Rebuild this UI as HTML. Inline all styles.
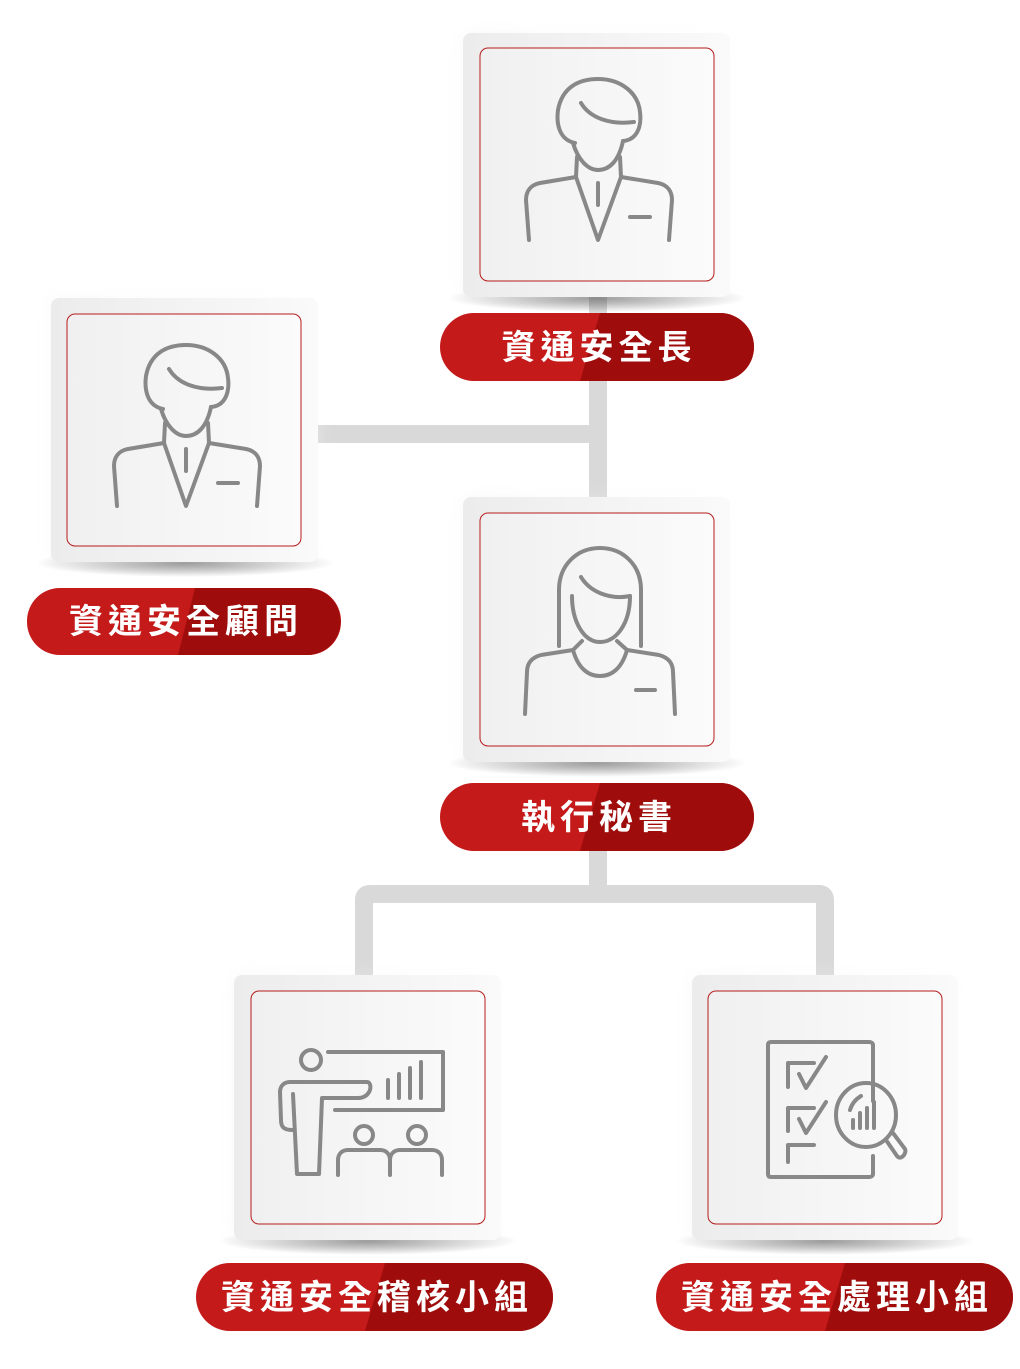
<!DOCTYPE html>
<html><head><meta charset="utf-8"><style>
html,body{margin:0;padding:0;background:#fff;}
body{width:1020px;height:1364px;overflow:hidden;}
</style></head><body>
<svg width="1020" height="1364" viewBox="0 0 1020 1364" xmlns="http://www.w3.org/2000/svg">
<defs>
<linearGradient id="card" x1="0" x2="1" y1="0" y2="0"><stop offset="0" stop-color="#ececec"/><stop offset="1" stop-color="#fafafa"/></linearGradient>
<linearGradient id="inner" x1="0" x2="1" y1="0" y2="0"><stop offset="0" stop-color="#f0f0f0"/><stop offset="1" stop-color="#fbfbfb"/></linearGradient>
<radialGradient id="sh" cx="0.5" cy="0.5" r="0.5"><stop offset="0" stop-color="#000" stop-opacity="0.45"/><stop offset="1" stop-color="#000" stop-opacity="0"/></radialGradient>
<filter id="blur" x="-20%" y="-20%" width="140%" height="140%"><feGaussianBlur stdDeviation="8"/></filter>
<g id="male" fill="none" stroke="#888" stroke-width="4" stroke-linecap="round" stroke-linejoin="round">
<path d="M575,143 C560,140 556,125 558,110 C562,88 578,79 598,79 C620,79 638,92 640,112 C642,128 636,140 623,141"/>
<path d="M573,143 C578,160 588,170 598,170 C610,170 619,160 623,141"/>
<path d="M581,103 C590,118 610,125 634,122"/>
<path d="M577,157 L576,177 M620,157 L621,177"/>
<path d="M576,177 L540,183 C530,185 526,192 526,200 L529,240"/>
<path d="M621,177 L658,183 C668,185 672,192 672,200 L669,240"/>
<path d="M576,177 L598,240 L621,177"/>
<path d="M598,183 L598,205 M630,217 L650,217"/>
</g>
</defs>
<!-- connectors -->
<g fill="none" stroke="#d9d9d9" stroke-width="18">
<path d="M598,297 L598,497"/>
<path d="M318,434 L598,434"/>
<path d="M598,851 L598,894 M364,975 L364,900 Q364,894 370,894 L819,894 Q825,894 825,900 L825,975"/>
</g>
<!-- cards -->
<g id="cards">
<g>
<ellipse cx="597" cy="298" rx="150" ry="14" fill="url(#sh)"/>
<rect x="463" y="33" width="267" height="264" rx="8" fill="url(#card)" filter="url(#blur)" opacity="0.35"/>
<rect x="463" y="33" width="267" height="264" rx="8" fill="url(#card)"/>
<rect x="480" y="48" width="234" height="233" rx="8" fill="url(#inner)" stroke="#b51c1c" stroke-width="1"/>
</g>
<g>
<ellipse cx="185" cy="563" rx="150" ry="14" fill="url(#sh)"/>
<rect x="51" y="298" width="267" height="264" rx="8" fill="url(#card)" filter="url(#blur)" opacity="0.35"/>
<rect x="51" y="298" width="267" height="264" rx="8" fill="url(#card)"/>
<rect x="67" y="314" width="234" height="232" rx="8" fill="url(#inner)" stroke="#b51c1c" stroke-width="1"/>
</g>
<g>
<ellipse cx="597" cy="763" rx="150" ry="14" fill="url(#sh)"/>
<rect x="463" y="497" width="267" height="265" rx="8" fill="url(#card)" filter="url(#blur)" opacity="0.35"/>
<rect x="463" y="497" width="267" height="265" rx="8" fill="url(#card)"/>
<rect x="480" y="513" width="234" height="233" rx="8" fill="url(#inner)" stroke="#b51c1c" stroke-width="1"/>
</g>
<g>
<ellipse cx="368" cy="1241" rx="150" ry="14" fill="url(#sh)"/>
<rect x="234" y="975" width="267" height="265" rx="8" fill="url(#card)" filter="url(#blur)" opacity="0.35"/>
<rect x="234" y="975" width="267" height="265" rx="8" fill="url(#card)"/>
<rect x="251" y="991" width="234" height="233" rx="8" fill="url(#inner)" stroke="#b51c1c" stroke-width="1"/>
</g>
<g>
<ellipse cx="825" cy="1241" rx="150" ry="14" fill="url(#sh)"/>
<rect x="692" y="975" width="266" height="265" rx="8" fill="url(#card)" filter="url(#blur)" opacity="0.35"/>
<rect x="692" y="975" width="266" height="265" rx="8" fill="url(#card)"/>
<rect x="708" y="991" width="234" height="233" rx="8" fill="url(#inner)" stroke="#b51c1c" stroke-width="1"/>
</g>
</g>
<!-- icons -->
<use href="#male"/>
<use href="#male" transform="translate(-412,266)"/>
<g fill="none" stroke="#888" stroke-width="4" stroke-linecap="round" stroke-linejoin="round">
<path d="M559,646 L559,590 C559,565 577,548 600,548 C623,548 641,565 641,590 L641,646"/>
<path d="M572,596 C572,622 584,642 600,642 C616,642 630,624 630,596"/>
<path d="M581,577 C590,592 610,600 630,596"/>
<path d="M582,641 L573,650 C578,668 588,676 600,676 C612,676 622,668 627,650 L617,641"/>
<path d="M573,650 L541,655 C530,658 527,665 527,672 L525,714"/>
<path d="M627,650 L659,655 C670,658 673,665 673,672 L675,714"/>
<path d="M636,690 L655,690"/>
</g>
<!-- presenter -->
<g fill="none" stroke="#888" stroke-width="4" stroke-linecap="round" stroke-linejoin="round">
<circle cx="311" cy="1060" r="10"/>
<path d="M328,1052 L443,1052 L443,1110 L335,1110"/>
<path d="M388,1098 L388,1080 M399,1098 L399,1074 M410,1098 L410,1068 M421,1098 L421,1062"/>
<path d="M292,1130 C283,1130 281,1126 281,1120 L280,1092 C280,1086 284,1082 290,1082 L367,1082 C370,1082 371,1086 370,1090 C368,1095 364,1098 358,1098 L322,1098 L319,1174 L297,1174 L293,1094"/>
<circle cx="364" cy="1135" r="9"/>
<circle cx="417" cy="1135" r="9"/>
<path d="M338,1175 L338,1160 C338,1154 342,1150 348,1150 L380,1150 C386,1150 390,1154 390,1160 L390,1175"/>
<path d="M390,1160 C390,1154 394,1150 400,1150 L432,1150 C438,1150 442,1154 442,1160 L442,1175"/>
</g>
<!-- checklist -->
<g fill="none" stroke="#888" stroke-width="4" stroke-linecap="round" stroke-linejoin="round">
<path d="M873,1101 L873,1045 C873,1043 871,1042 869,1042 L771,1042 C769,1042 768,1043 768,1045 L768,1174 C768,1176 769,1177 771,1177 L869,1177 C871,1177 873,1176 873,1174 L873,1156"/>
<path d="M788,1087 L788,1063 L814,1063 M799,1074 L806,1088 L826,1057"/>
<path d="M788,1131 L788,1108 L814,1108 M799,1119 L806,1133 L826,1102"/>
<path d="M788,1162 L788,1145 L814,1145"/>
<ellipse cx="866" cy="1115" rx="30" ry="32"/>
<path d="M850,1110 C852,1103 856,1099 861,1096"/>
<path d="M853,1128 L853,1120 M860,1128 L860,1113 M867,1128 L867,1108 M874,1128 L874,1102"/>
<path d="M886,1140 L897,1156 C901,1161 907,1153 905,1149 L893,1133"/>
</g>
<!-- labels -->
<defs>
<linearGradient id="pill" x1="0" x2="1" y1="0" y2="0"><stop offset="0" stop-color="#c61b1b"/><stop offset="0.48" stop-color="#c41a1a"/><stop offset="0.48" stop-color="#a00d0d"/><stop offset="1" stop-color="#9a0b0b"/></linearGradient>
</defs>
<g font-family="'Liberation Sans','Noto Sans CJK TC',sans-serif" font-size="34" font-weight="bold" fill="#fff" text-anchor="middle" letter-spacing="5">
<rect x="440" y="313" width="314" height="68" rx="34" fill="#c41a1a"/>
<path d="M600,313 L720,313 A34,34 0 0 1 720,381 L580,381 Z" fill="#9e0c0c"/>
<text x="599" y="359">資通安全長</text>
<rect x="27" y="588" width="314" height="67" rx="33" fill="#c41a1a"/>
<path d="M195,588 L307,588 A33,33 0 0 1 307,655 L178,655 Z" fill="#9e0c0c"/>
<text x="186" y="633">資通安全顧問</text>
<rect x="440" y="783" width="314" height="68" rx="34" fill="#c41a1a"/>
<path d="M600,783 L720,783 A34,34 0 0 1 720,851 L580,851 Z" fill="#9e0c0c"/>
<text x="599" y="829">執行秘書</text>
<rect x="196" y="1263" width="357" height="68" rx="34" fill="#c41a1a"/>
<path d="M385,1263 L519,1263 A34,34 0 0 1 519,1331 L365,1331 Z" fill="#9e0c0c"/>
<text x="377" y="1309">資通安全稽核小組</text>
<rect x="656" y="1263" width="357" height="68" rx="34" fill="#c41a1a"/>
<path d="M845,1263 L979,1263 A34,34 0 0 1 979,1331 L825,1331 Z" fill="#9e0c0c"/>
<text x="837" y="1309">資通安全處理小組</text>
</g>
</svg>
</body></html>
